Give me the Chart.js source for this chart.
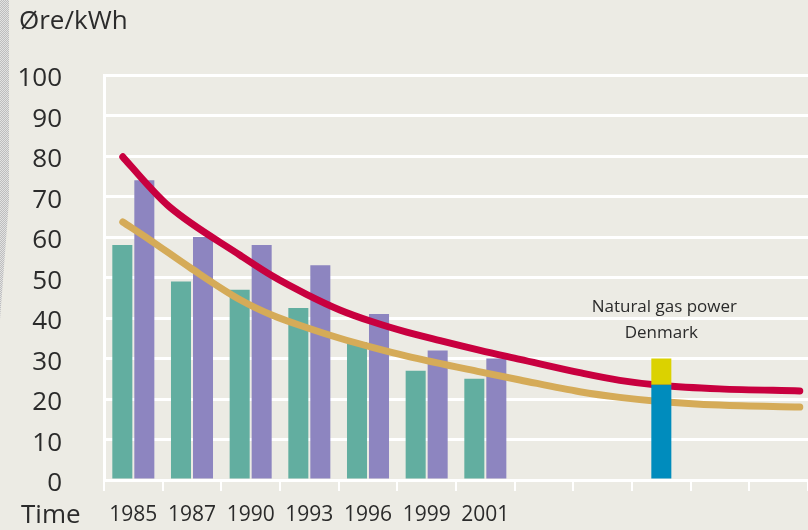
<!DOCTYPE html>
<html>
<head>
<meta charset="utf-8">
<script src="https://cdn.jsdelivr.net/npm/chart.js@4"></script>
<style>
  html, body { margin: 0; padding: 0; background: #ecebe4; }
  .wrap { position: relative; width: 808px; height: 530px; overflow: hidden; }
  .edge {
    position: absolute; left: 0; top: 0; width: 10px; height: 330px;
    background: repeating-conic-gradient(#bdbdbd 0 25%, #e2e2e2 0 50%) 0 0 / 2px 2px;
    clip-path: polygon(0 0, 9px 0, 9px 200px, 0 320px);
  }
  canvas { position: absolute; left: 0; top: 0; }
</style>
</head>
<body>
<div class="wrap">
  <div class="edge"></div>
  <canvas id="chart" width="808" height="530"></canvas>
</div>
<script>
  const years = ["1985", "1987", "1990", "1993", "1996", "1999", "2001", "", "", "", "", ""];

  const greenValues = [58, 49, 47, 42.5, 34, 27, 25];
  const purpleValues = [74, 60, 58, 53, 41, 32, 30];

  // natural gas power in Denmark: category, blue part, yellow part on top
  const gasIndex = 9;
  const gasBase = 23.5;
  const gasTop = 30;

  // curves, x given in category units from the left edge of the plot
  const redPos = [0.32, 0.78, 1.12, 2.32, 2.88, 3.46, 4.02, 4.59, 5.16, 5.73, 6.41, 7.09, 8.11, 8.79, 9.47, 10.49, 11.86];
  const redValues = [79.8, 72.3, 67.4, 55.5, 50.3, 45.8, 42, 39, 36.5, 34.4, 32, 29.8, 26.5, 24.6, 23.4, 22.5, 22];
  const goldPos = [0.32, 0.78, 1.47, 2.32, 2.88, 3.46, 4.02, 4.59, 5.16, 6.41, 7.09, 8.11, 8.79, 9.47, 10.49, 11.86];
  const goldValues = [63.7, 59.3, 52.4, 44.5, 40.6, 37.6, 35, 32.7, 30.6, 26.7, 24.7, 21.8, 20.4, 19.4, 18.5, 18];

  const textColor = "#2b2b2b";
  const font = "'Open Sans', sans-serif";

  function atCenters(values) {
    return values.map(function (v, i) { return { x: i + 0.5, y: v }; });
  }

  function points(xs, ys) {
    return xs.map(function (x, i) { return { x: x, y: ys[i] }; });
  }

  const extraText = {
    id: "extraText",
    afterDraw: function (chart) {
      const ctx = chart.ctx;
      const xv = chart.scales.xv;
      const y = chart.scales.y;
      ctx.save();
      ctx.fillStyle = textColor;
      ctx.textBaseline = "middle";

      ctx.font = "26px " + font;
      ctx.textAlign = "left";
      ctx.fillText("Øre/kWh", 19, 22);
      ctx.fillText("Time", 21, 516);

      ctx.font = "17px " + font;
      ctx.textAlign = "center";
      const cx = xv.getPixelForValue(gasIndex + 0.5);
      ctx.fillText("Natural gas power", cx + 3, y.getPixelForValue(42.6));
      ctx.fillText("Denmark", cx, y.getPixelForValue(36.2));
      ctx.restore();
    }
  };

  new Chart(document.getElementById("chart"), {
    type: "bar",
    data: {
      labels: years,
      datasets: [
        {
          data: [{ x: gasIndex + 0.5, y: gasBase }],
          backgroundColor: "#008cbd",
          xAxisID: "xv",
          grouped: false,
          order: 0,
          categoryPercentage: 0.75,
          barPercentage: 0.455
        },
        {
          data: [{ x: gasIndex + 0.5, y: [gasBase, gasTop] }],
          backgroundColor: "#dbd200",
          xAxisID: "xv",
          grouped: false,
          order: 0,
          categoryPercentage: 0.75,
          barPercentage: 0.455
        },
        {
          type: "line",
          data: points(redPos, redValues),
          xAxisID: "xv",
          borderColor: "#c8003f",
          borderWidth: 7,
          borderCapStyle: "round",
          borderJoinStyle: "round",
          cubicInterpolationMode: "monotone",
          pointRadius: 0,
          fill: false,
          order: 1
        },
        {
          type: "line",
          data: points(goldPos, goldValues),
          xAxisID: "xv",
          borderColor: "#d5ab58",
          borderWidth: 7,
          borderCapStyle: "round",
          borderJoinStyle: "round",
          cubicInterpolationMode: "monotone",
          pointRadius: 0,
          fill: false,
          order: 2
        },
        {
          data: atCenters(greenValues),
          backgroundColor: "#62aea0",
          xAxisID: "xv",
          order: 3,
          categoryPercentage: 0.75,
          barPercentage: 0.91
        },
        {
          data: atCenters(purpleValues),
          backgroundColor: "#8d85c0",
          xAxisID: "xv",
          order: 3,
          categoryPercentage: 0.75,
          barPercentage: 0.91
        }
      ]
    },
    options: {
      responsive: false,
      animation: false,
      layout: { padding: { top: 75, right: 0, bottom: 0, left: 0 } },
      plugins: {
        legend: { display: false },
        tooltip: { enabled: false }
      },
      scales: {
        x: {
          type: "category",
          offset: true,
          grid: {
            offset: true,
            drawOnChartArea: false,
            color: "#ffffff",
            lineWidth: 2,
            tickLength: 11
          },
          border: { color: "#ffffff", width: 3 },
          ticks: {
            color: textColor,
            font: { size: 21, family: font },
            padding: 11,
            maxRotation: 0,
            autoSkip: false
          },
          afterFit: function (scale) { scale.height = 50; }
        },
        xv: {
          type: "linear",
          min: 0,
          max: 12,
          offset: false,
          display: false,
          grid: { offset: false },
          ticks: { stepSize: 1 }
        },
        y: {
          min: 0,
          max: 100,
          grid: {
            color: "#ffffff",
            lineWidth: 3,
            drawTicks: true,
            tickLength: 40,
            tickColor: "rgba(0,0,0,0)"
          },
          border: { color: "#ffffff", width: 3 },
          ticks: {
            stepSize: 10,
            color: textColor,
            font: { size: 26, family: font },
            padding: 2,
            labelOffset: 4
          },
          afterFit: function (scale) { scale.width = 104; }
        }
      }
    },
    plugins: [extraText]
  });
</script>
</body>
</html>
